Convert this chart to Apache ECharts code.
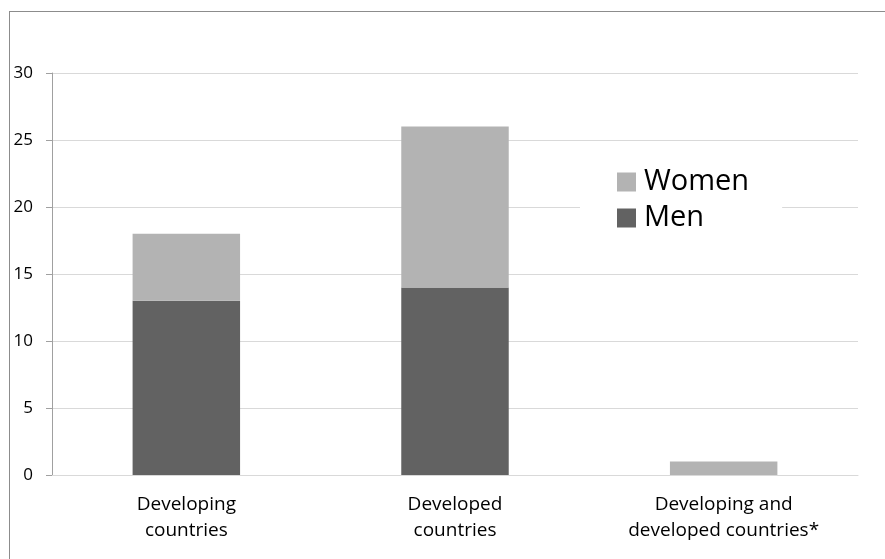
<!DOCTYPE html>
<html>
<head>
<meta charset="utf-8">
<script src="https://cdn.jsdelivr.net/npm/echarts@6/dist/echarts.min.js"></script>
<style>
html,body{margin:0;padding:0;background:#fff;}
#chart{width:885px;height:559px;}
</style>
</head>
<body>
<div id="chart"></div>
<script>
var categories = ['Developing\ncountries', 'Developed\ncountries', 'Developing and\ndeveloped countries*'];
var seriesNames = ['Men', 'Women'];
var menValues = [13, 14, 0];
var womenValues = [5, 12, 1];
var yMin = 0, yMax = 30, yInterval = 5;

var chart = echarts.init(document.getElementById('chart'), null, {renderer: 'canvas'});
var font = 'Open Sans';
chart.setOption({
  animation: false,
  backgroundColor: '#fff',
  textStyle: {fontFamily: font},
  grid: {left: 52, right: 27, top: 73, bottom: 84, containLabel: false},
  legend: {
    data: ['Women', 'Men'],
    orient: 'vertical',
    left: 580,
    top: 162,
    padding: [5, 33, 5, 37],
    backgroundColor: '#ffffff',
    itemWidth: 19,
    itemHeight: 19,
    itemGap: 6,
    icon: 'rect',
    textStyle: {fontFamily: font, fontSize: 29, color: '#000', lineHeight: 30, padding: [0, 0, 0, 3]}
  },
  xAxis: {
    type: 'category',
    data: categories,
    axisLine: {show: true, lineStyle: {color: '#d9d9d9', width: 1}},
    axisTick: {show: false},
    axisLabel: {fontFamily: font, fontSize: 19, color: '#000', lineHeight: 26, margin: 17, interval: 0}
  },
  yAxis: {
    type: 'value',
    min: yMin,
    max: yMax,
    interval: yInterval,
    axisLine: {show: true, lineStyle: {color: '#a0a0a0', width: 1}},
    axisTick: {show: true, length: 6, lineStyle: {color: '#a0a0a0'}},
    axisLabel: {fontFamily: font, fontSize: 17, color: '#000', margin: 19},
    splitLine: {show: true, lineStyle: {color: '#d9d9d9', width: 1}}
  },
  series: [
    {name: seriesNames[0], type: 'bar', stack: 'total', data: menValues, barWidth: '40%', itemStyle: {color: '#626262'}},
    {name: seriesNames[1], type: 'bar', stack: 'total', data: womenValues, barWidth: '40%', itemStyle: {color: '#b3b3b3'}}
  ],
  graphic: [
    {type: 'line', shape: {x1: 9.5, y1: 11, x2: 9.5, y2: 559}, style: {stroke: '#8c8c8c', lineWidth: 1}},
    {type: 'line', shape: {x1: 9, y1: 11.5, x2: 885, y2: 11.5}, style: {stroke: '#8c8c8c', lineWidth: 1}}
  ]
});
</script>
</body>
</html>
